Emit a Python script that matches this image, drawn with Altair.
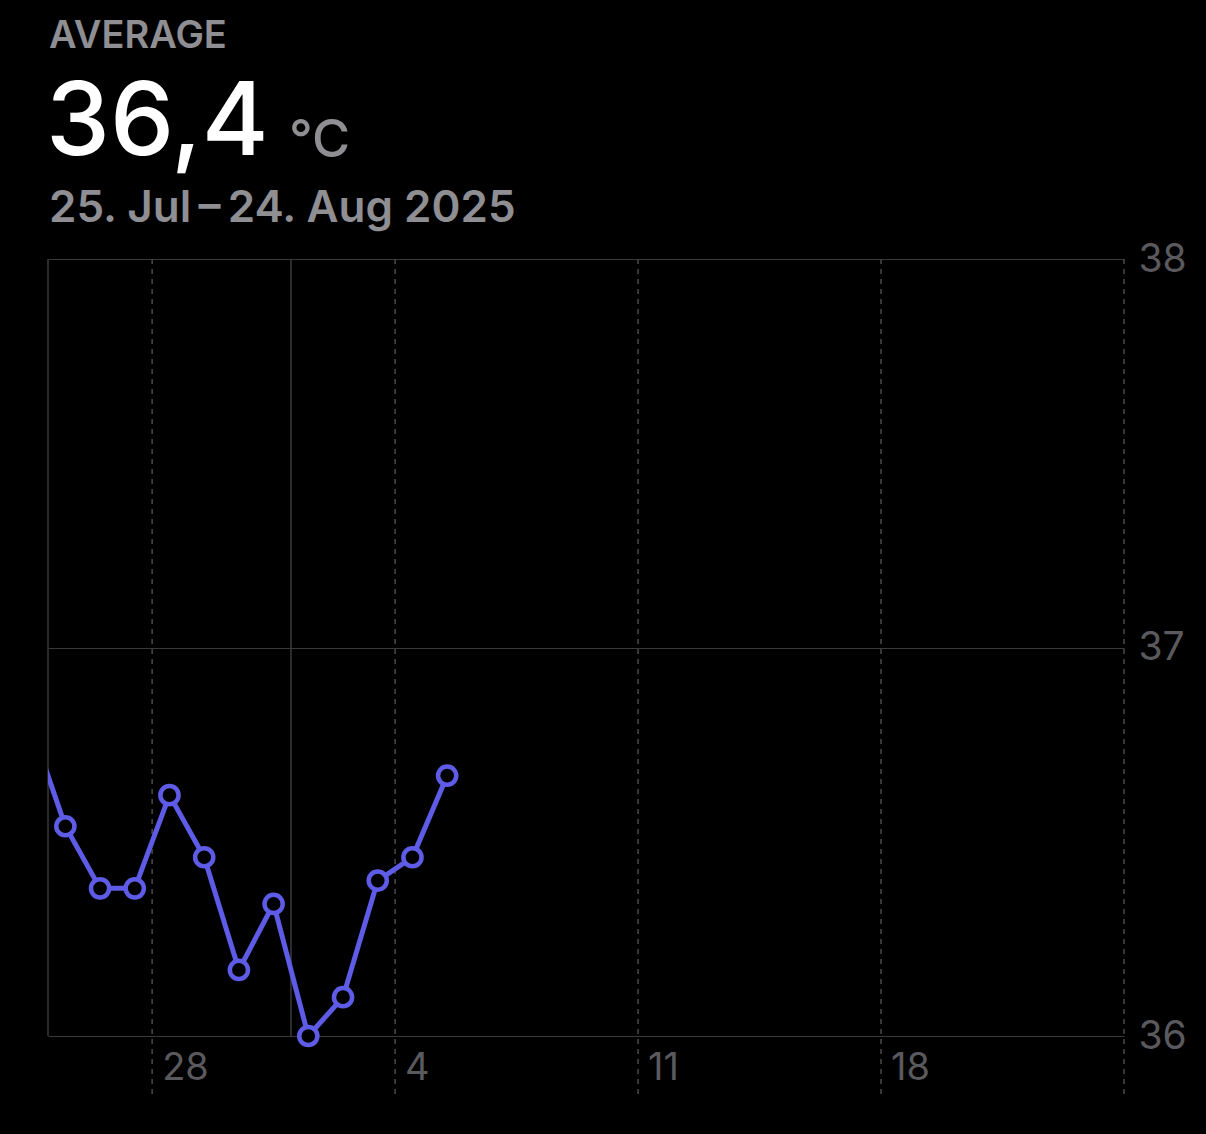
import altair as alt
import pandas as pd

# ---- data ----
day_dates = ["2025-07-24", "2025-07-25", "2025-07-26", "2025-07-27", "2025-07-28",
             "2025-07-29", "2025-07-30", "2025-07-31", "2025-08-01", "2025-08-02",
             "2025-08-03", "2025-08-04", "2025-08-05"]
day_values = [36.80, 36.54, 36.38, 36.38, 36.62, 36.46, 36.17, 36.34, 36.00, 36.10,
              36.40, 36.46, 36.67]

week_dates = ["2025-07-28", "2025-08-04", "2025-08-11", "2025-08-18", "2025-08-25"]
week_labels = ["28", "4", "11", "18", ""]
solid_dates = ["2025-07-25", "2025-08-01"]
y_ticks = [36, 37, 38]

header_label = ["AVERAGE"]
header_value = ["36,4"]
header_unit = ["°C"]
header_range = ["25. Jul\u2009\u2013\u200924. Aug 2025"]

W, H = 1076, 777
LINE = "#5e5ce6"
GRAY = "#8e8e93"
AXIS_GRAY = "#5a5a5e"
GRID = "#3a3a3c"
FONT = "Inter"

# black page background (page margin) -- safe, optional
try:
    import altair.utils.html as _h
    _orig = _h.TEMPLATES["standard"]

    class _BlackPage:
        def render(self, **kw):
            out = _orig.render(**kw)
            return out.replace("<head>", "<head><style>html,body{background:#000;}</style>", 1)

    _h.TEMPLATES["standard"] = _BlackPage()
except Exception:
    pass

df = pd.DataFrame({"date": [d + "T12:00:00" for d in day_dates], "value": day_values})
df_pts = df.iloc[1:]
weeks = pd.DataFrame({"date": [d + "T00:00:00" for d in week_dates], "label": week_labels})
solids = pd.DataFrame({"date": [d + "T00:00:00" for d in solid_dates]})

xscale = alt.Scale(domain=[alt.DateTime(year=2025, month=7, date=25),
                           alt.DateTime(year=2025, month=8, date=25)])
yscale = alt.Scale(domain=[36, 38], nice=False, zero=False)

x_enc = alt.X("date:T", scale=xscale, axis=None)

line = alt.Chart(df).mark_line(color=LINE, strokeWidth=5, clip=True).encode(
    x=x_enc,
    y=alt.Y("value:Q", scale=yscale,
            axis=alt.Axis(orient="right", values=y_ticks,
                          labelExpr="format(datum.value, 'd')", labelOverlap=False,
                          grid=True, gridColor=GRID, gridWidth=1.2, domain=False,
                          ticks=False, labelPadding=14, labelFontSize=39,
                          labelColor=AXIS_GRAY, labelFont=FONT, labelFontWeight=400,
                          title=None)),
)

points = alt.Chart(df_pts).mark_point(shape="circle", filled=True, fill="black",
                                      stroke=LINE, strokeWidth=4.5, size=330,
                                      opacity=1).encode(
    x=x_enc, y=alt.Y("value:Q", scale=yscale)
)

dashed = alt.Chart(weeks).mark_rule(color="#4a4a4c", strokeWidth=1.5,
                                    strokeDash=[5, 5]).encode(
    x=x_enc, y=alt.value(0), y2=alt.value(H + 62)
)

solid = alt.Chart(solids).mark_rule(color=GRID, strokeWidth=1.5).encode(
    x=x_enc, y=alt.value(0), y2=alt.value(H)
)

xlabels = alt.Chart(weeks).mark_text(align="left", baseline="middle", dx=10,
                                     fontSize=38, font=FONT, color=AXIS_GRAY).encode(
    x=x_enc, y=alt.value(H + 33), text="label:N"
)


def header(values, x, y, size, color, weight):
    return alt.Chart(pd.DataFrame({"t": values})).mark_text(
        align="left", baseline="alphabetic", fontSize=size, font=FONT,
        color=color, fontWeight=weight
    ).encode(x=alt.value(x), y=alt.value(y), text="t:N")


h1 = header(header_label, 1, -211, 38, GRAY, 600)
h2 = header(header_value, -2, -104, 102, "white", 500)
h3 = header(header_unit, 241, -102, 52, GRAY, 500)
h4 = header(header_range, 1, -37, 44, GRAY, 600)

chart = alt.layer(solid, dashed, line, points, xlabels, h1, h2, h3, h4).properties(
    width=W, height=H,
    autosize=alt.AutoSizeParams(type="none"),
    padding={"left": 40, "top": 251, "right": 74, "bottom": 90},
    background="black",
).configure_view(stroke=None)

chart.save("out.html", embed_options={"renderer": "svg", "actions": False})
